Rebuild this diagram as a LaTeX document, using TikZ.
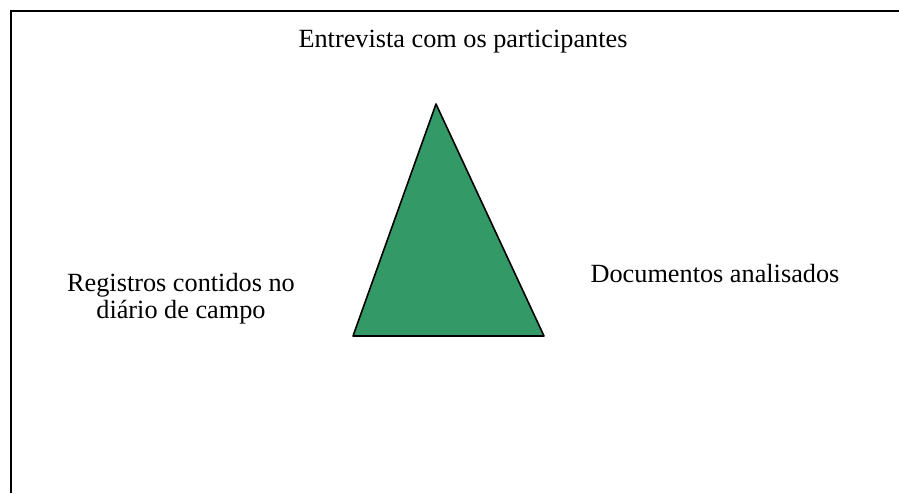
\documentclass[tikz,border=0pt]{standalone}
\usepackage{fontspec}
\setmainfont{Liberation Serif}
\definecolor{triangfill}{HTML}{339966}

\begin{document}
\begin{tikzpicture}[x=0.75pt, y=-0.75pt,
    label text/.style={font=\fontsize{19.7}{20}\selectfont, inner sep=0pt, align=center}]

    \useasboundingbox (0,0) rectangle (899,493);

    % frame, only its top and left sides fall inside the picture
    \draw[line width=1.5pt] (11,493) -- (11,11) -- (899,11);

    % the green triangle in the middle
    \coordinate (apex) at (436,104);
    \coordinate (baseleft) at (353,336);
    \coordinate (baseright) at (544,336);
    \draw[fill=triangfill, line width=1.2pt, line join=round] (apex) -- (baseleft) -- (baseright) -- cycle;

    % the three sources round it
    \node[label text, anchor=base] (entrevista) at (463,47) {Entrevista com os participantes};
    \node[label text, anchor=base] (diario) at (181,318) {Registros contidos no\\di\'ario de campo};
    \node[label text, anchor=base] (documentos) at (715,282) {Documentos analisados};

\end{tikzpicture}
\end{document}
